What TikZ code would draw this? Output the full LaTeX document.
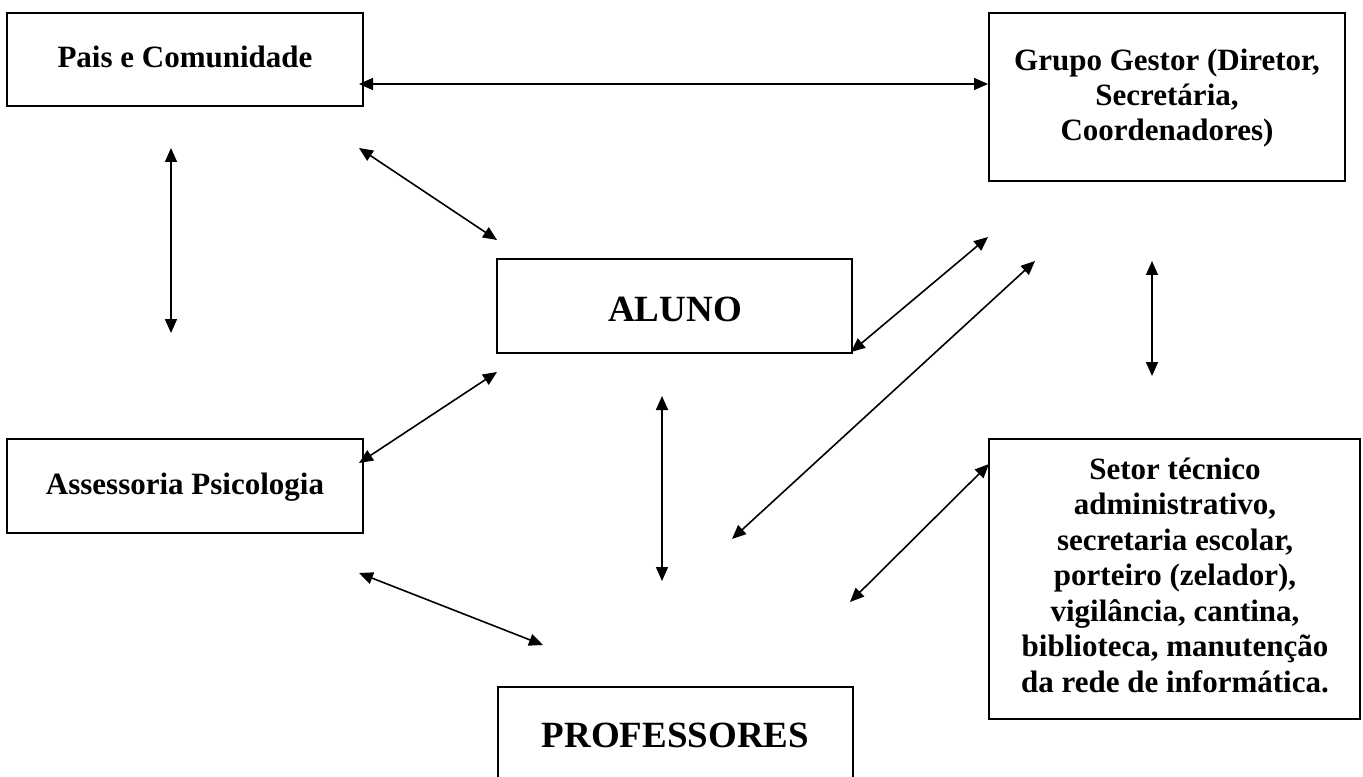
\documentclass[tikz,border=0pt]{standalone}
\usepackage{fontspec}
\setmainfont{Liberation Serif}
\usetikzlibrary{arrows.meta}
\tikzset{
  box/.style={draw, line width=1.5pt, inner sep=0pt},
  conn/.style={line width=1.2pt, {Triangle[length=10.5pt,width=9pt]}-{Triangle[length=10.5pt,width=9pt]}},
  lbl/.style={anchor=base, inner sep=0pt, font=\fontsize{23.25pt}{26pt}\selectfont\bfseries},
  biglbl/.style={anchor=base, inner sep=0pt, font=\fontsize{27.75pt}{31pt}\selectfont\bfseries},
}
\begin{document}
\begin{tikzpicture}[x=0.75pt,y=-0.75pt]
\useasboundingbox (0,0) rectangle (1363,777);
\clip (0,0) rectangle (1363,777);
\fill[white] (0,0) rectangle (1363,777);

% boxes
\node[box, minimum width=267pt,    minimum height=69.75pt] (pais)   at (185,59.5)   {};
\node[box, minimum width=267pt,    minimum height=126pt]   (grupo)  at (1167,97)    {};
\node[box, minimum width=266.25pt, minimum height=70.5pt]  (aluno)  at (674.5,306)  {};
\node[box, minimum width=267pt,    minimum height=70.5pt]  (assess) at (185,486)    {};
\node[box, minimum width=278.25pt, minimum height=210pt]   (setor)  at (1174.5,579) {};
\node[box, minimum width=266.25pt, minimum height=99.75pt] (prof)   at (675.5,753.5){};

% texts
\node[lbl] (paisT) at (185,68) {Pais e Comunidade};
\node[lbl] (grupoT1) at (1167,71)  {Grupo Gestor (Diretor,};
\node[lbl] (grupoT2) at (1167,106) {Secretária,};
\node[lbl] (grupoT3) at (1167,141) {Coordenadores)};
\node[biglbl] (alunoT) at (675,321) {ALUNO};
\node[lbl] (assessT) at (185,494) {Assessoria Psicologia};
\node[biglbl] (profT) at (675.5,747) {PROFESSORES};
\node[lbl] (setorT1) at (1175,479)   {Setor técnico};
\node[lbl] (setorT2) at (1175,514.5) {administrativo,};
\node[lbl] (setorT3) at (1175,550)   {secretaria escolar,};
\node[lbl] (setorT4) at (1175,585.5) {porteiro (zelador),};
\node[lbl] (setorT5) at (1175,621)   {vigilância, cantina,};
\node[lbl] (setorT6) at (1175,656.5) {biblioteca, manutenção};
\node[lbl] (setorT7) at (1175,692)   {da rede de informática.};

% connector end points
\coordinate (pgA) at (359,84);   \coordinate (pgB) at (988,84);
\coordinate (paA) at (171,148);  \coordinate (paB) at (171,333);
\coordinate (alA) at (359,148);  \coordinate (alB) at (497,240);
\coordinate (asA) at (359,463);  \coordinate (asB) at (497,372);
\coordinate (apA) at (359,573);  \coordinate (apB) at (543,645);
\coordinate (avA) at (662,396);  \coordinate (avB) at (662,581);
\coordinate (gaA) at (988,237);  \coordinate (gaB) at (851,352);
\coordinate (gpA) at (1035,261); \coordinate (gpB) at (732,539);
\coordinate (gsA) at (1152,261); \coordinate (gsB) at (1152,376);
\coordinate (spA) at (989,464);  \coordinate (spB) at (850,602);

% connectors
\draw[conn] (pgA) -- (pgB);
\draw[conn] (paA) -- (paB);
\draw[conn] (alA) -- (alB);
\draw[conn] (asA) -- (asB);
\draw[conn] (apA) -- (apB);
\draw[conn] (avA) -- (avB);
\draw[conn] (gaA) -- (gaB);
\draw[conn] (gpA) -- (gpB);
\draw[conn] (gsA) -- (gsB);
\draw[conn] (spA) -- (spB);
\end{tikzpicture}
\end{document}
